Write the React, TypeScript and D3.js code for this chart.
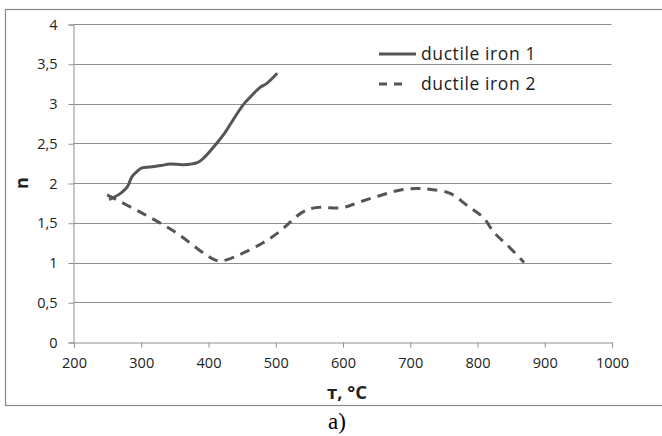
import React, { useEffect, useRef } from 'react';
import * as d3 from 'd3';

// ductile iron 1 (solid)
const temp1 = [253, 270, 280, 287, 295, 302, 314, 330, 344, 363, 385, 393, 403, 413, 425, 437, 452, 465, 477, 487, 503];
const n1 = [1.79, 1.87, 1.95, 2.08, 2.15, 2.19, 2.2, 2.22, 2.24, 2.23, 2.26, 2.31, 2.4, 2.5, 2.63, 2.79, 2.98, 3.1, 3.2, 3.25, 3.38];

// ductile iron 2 (dashed)
const temp2 = [250, 300, 350, 400, 415, 430, 450, 480, 505, 540, 560, 600, 625, 655, 685, 710, 730, 760, 785, 810, 825, 845, 870];
const n2 = [1.85, 1.63, 1.39, 1.08, 1.02, 1.04, 1.11, 1.24, 1.38, 1.63, 1.69, 1.69, 1.76, 1.84, 1.91, 1.93, 1.92, 1.87, 1.72, 1.56, 1.38, 1.22, 1.0];

const xTicks = [200, 300, 400, 500, 600, 700, 800, 900, 1000];
const yTicks = [0, 0.5, 1, 1.5, 2, 2.5, 3, 3.5, 4];
const seriesNames = ['ductile iron 1', 'ductile iron 2'];

export default function App() {
  const svgRef = useRef<SVGSVGElement>(null);

  useEffect(() => {
    if (!svgRef.current) return;
    const svg = d3.select(svgRef.current);
    svg.selectAll('*').remove();

    const font = '"Open Sans", sans-serif';
    const grid = '#8f8f8f';
    const lineColor = '#555555';

    // outer frame (right edge runs off the picture)
    svg.append('rect')
      .attr('x', 5.5).attr('y', 9.5).attr('width', 700).attr('height', 396)
      .attr('fill', 'none').attr('stroke', '#8a8a8a').attr('stroke-width', 1.2);

    const x = d3.scaleLinear().domain([200, 1000]).range([73.5, 611.5]);
    const y = d3.scaleLinear().domain([0, 4]).range([342, 24]);

    // gridlines
    svg.append('g').selectAll('line').data(yTicks.filter(d => d > 0)).join('line')
      .attr('x1', x(200)).attr('x2', x(1000))
      .attr('y1', d => Math.round(y(d)) + 0.5).attr('y2', d => Math.round(y(d)) + 0.5)
      .attr('stroke', grid).attr('stroke-width', 1);

    // y axis
    const yAxis = svg.append('g').attr('transform', `translate(${x(200)},0.5)`)
      .call(d3.axisLeft(y).tickValues(yTicks).tickSize(5).tickPadding(11)
        .tickFormat(d => String(d).replace('.', ',')));
    yAxis.select('.domain').attr('stroke', grid);
    yAxis.selectAll('line').attr('stroke', grid);
    yAxis.selectAll('text').attr('font-family', font).attr('font-size', 14.5).attr('fill', '#222');

    // x axis
    const xAxis = svg.append('g').attr('transform', `translate(0.5,${y(0) + 0.5})`)
      .call(d3.axisBottom(x).tickValues(xTicks).tickSize(5).tickPadding(10).tickFormat(d => String(d)));
    xAxis.select('.domain').attr('stroke', grid);
    xAxis.selectAll('line').attr('stroke', grid);
    xAxis.selectAll('text').attr('font-family', font).attr('font-size', 14.5).attr('fill', '#222');

    // axis titles
    svg.append('text').attr('x', 347).attr('y', 399).attr('text-anchor', 'middle')
      .attr('font-family', font).attr('font-weight', 'bold').attr('font-size', 18.5).attr('fill', '#222')
      .text('т, °C');
    svg.append('text').attr('transform', `translate(28,${y(2)}) rotate(-90)`).attr('text-anchor', 'middle')
      .attr('font-family', font).attr('font-weight', 'bold').attr('font-size', 18).attr('fill', '#222')
      .text('n');

    const line = d3.line<[number, number]>()
      .x(d => x(d[0])).y(d => y(d[1]))
      .curve(d3.curveCatmullRom.alpha(0.5));

    svg.append('path')
      .datum(temp2.map((t, i) => [t, n2[i]] as [number, number]))
      .attr('d', line).attr('fill', 'none').attr('stroke', lineColor)
      .attr('stroke-width', 3).attr('stroke-dasharray', '10,7');

    svg.append('path')
      .datum(temp1.map((t, i) => [t, n1[i]] as [number, number]))
      .attr('d', line).attr('fill', 'none').attr('stroke', lineColor)
      .attr('stroke-width', 3);

    // legend
    const legend = svg.append('g');
    seriesNames.forEach((name, i) => {
      const ly = 54 + i * 30;
      legend.append('line').attr('x1', 379).attr('x2', i === 1 ? 402 : 416).attr('y1', ly).attr('y2', ly)
        .attr('stroke', lineColor).attr('stroke-width', 3)
        .attr('stroke-dasharray', i === 1 ? '8,7' : null);
      legend.append('text').attr('x', 421).attr('y', ly + 6)
        .attr('font-family', font).attr('font-size', 17.5).attr('letter-spacing', 0.6).attr('fill', '#222')
        .text(name);
    });

    // caption
    svg.append('text').attr('x', 337).attr('y', 429).attr('text-anchor', 'middle')
      .attr('font-family', '"Liberation Serif", serif').attr('font-size', 23).attr('fill', '#000')
      .text('a)');
  }, []);

  return (
    <svg
      ref={svgRef}
      width={662}
      height={436}
      style={{ position: 'absolute', left: 0, top: 0, background: '#fff' }}
    />
  );
}
